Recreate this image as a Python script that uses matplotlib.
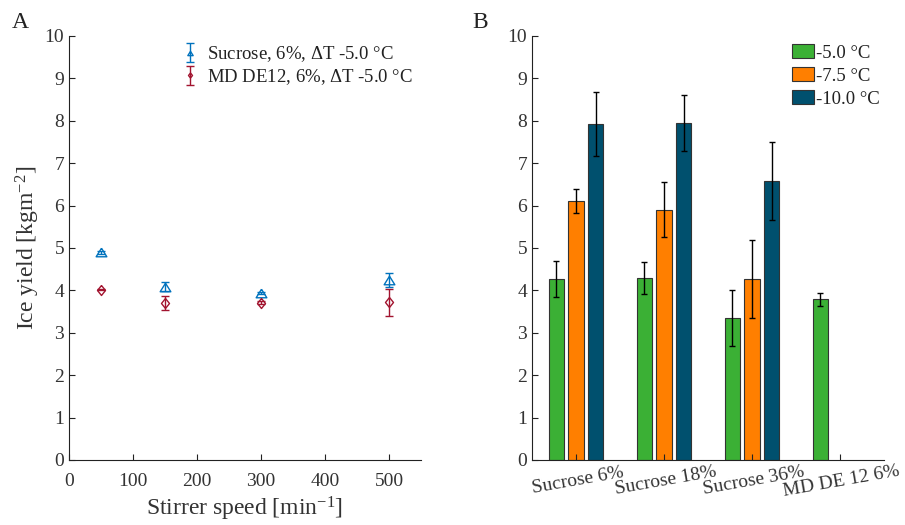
import numpy as np
import matplotlib.pyplot as plt

plt.rcParams['font.family'] = ['Liberation Serif', 'DejaVu Serif']
plt.rcParams['mathtext.fontset'] = 'custom'
plt.rcParams['mathtext.rm'] = 'Liberation Serif'
plt.rcParams['mathtext.it'] = 'Liberation Serif'

# panel A data
speed = [50, 150, 300, 500]
sucrose = [4.90, 4.09, 3.94, 4.25]
sucrose_err = [0.03, 0.10, 0.02, 0.17]
md = [4.02, 3.70, 3.71, 3.72]
md_err = [0.02, 0.16, 0.03, 0.32]

# panel B data
cats = ['Sucrose 6%', 'Sucrose 18%', 'Sucrose 36%', 'MD DE 12 6%']
t5 = [4.27, 4.29, 3.36, 3.79]
t5_err = [0.43, 0.38, 0.66, 0.155]
t75 = [6.10, 5.90, 4.27]
t75_err = [0.28, 0.65, 0.91]
t10 = [7.93, 7.95, 6.57]
t10_err = [0.75, 0.67, 0.92]

tc = '#333333'
tri = [(0, 0.8), (-1, -0.8), (1, -0.8), (0, 0.8)]
dia = [(0, 1), (0.8, 0), (0, -1), (-0.8, 0), (0, 1)]

fig = plt.figure(figsize=(9.05, 5.25), dpi=100)

axA = fig.add_axes([69/905, 65/525, 352/905, 424/525])
axA.errorbar(speed, sucrose, yerr=sucrose_err, ls='none', marker=tri, color='#0072BD',
             mfc='none', ms=7.7, mew=1, capsize=3, elinewidth=1,
             label='Sucrose, 6%, $\\Delta$T -5.0 °C')
axA.errorbar(speed, md, yerr=md_err, ls='none', marker=dia, color='#A2142F',
             mfc='none', ms=7.2, mew=1, capsize=3, elinewidth=1,
             label='MD DE12, 6%, $\\Delta$T -5.0 °C')
axA.set_xlim(0, 550)
axA.set_ylim(0, 10)
axA.set_xticks(np.arange(0, 501, 100))
axA.set_yticks(np.arange(0, 11, 1))
axA.set_xlabel('Stirrer speed [min$^{\\mathrm{-1}}$]', fontsize=17, color=tc, labelpad=4)
axA.set_ylabel('Ice yield [kgm$^{\\mathrm{-2}}$]', fontsize=17, color=tc, labelpad=2)
leg = axA.legend(loc='upper left', bbox_to_anchor=(0.275, 1.02), frameon=False, fontsize=13.5,
                 handlelength=0.8, handletextpad=0.5, labelspacing=0.15, markerscale=0.5)
for t in leg.get_texts():
    t.set_color('#222222')
fig.text(12/905, 1 - 28/525, 'A', fontsize=17, color='#222222')

axB = fig.add_axes([532/905, 65/525, 352/905, 424/525])
x = np.arange(1, len(cats) + 1)
w = 0.18
off = 0.222
ekw = dict(elinewidth=1, capsize=2.5, capthick=1, ecolor='black')
axB.bar(x - off, t5, w, yerr=t5_err, color='#3BB035', edgecolor='#333333', lw=0.8,
        error_kw=ekw, label='-5.0 °C')
axB.bar(x[:3], t75, w, yerr=t75_err, color='#FF7F00', edgecolor='#333333', lw=0.8,
        error_kw=ekw, label='-7.5 °C')
axB.bar(x[:3] + off, t10, w, yerr=t10_err, color='#00506E', edgecolor='#333333', lw=0.8,
        error_kw=ekw, label='-10.0 °C')
axB.set_xlim(0.5, 4.5)
axB.set_ylim(0, 10)
axB.set_yticks(np.arange(0, 11, 1))
axB.set_xticks(x)
axB.set_xticklabels(cats, rotation=10, ha='center', rotation_mode='anchor', fontsize=14.5)
legB = axB.legend(loc='upper left', bbox_to_anchor=(0.69, 1.02), frameon=False, fontsize=13.5,
                  handlelength=1.2, handleheight=0.75, handletextpad=0.1, labelspacing=0.3)
for t in legB.get_texts():
    t.set_color('#222222')
fig.text(472/905, 1 - 28/525, 'B', fontsize=17, color='#222222')

for ax in (axA, axB):
    for s in ('top', 'right'):
        ax.spines[s].set_visible(False)
    for s in ('left', 'bottom'):
        ax.spines[s].set_color('#222222')
    ax.tick_params(direction='in', labelsize=14, colors='#222222', labelcolor=tc, length=4)
    ax.tick_params(axis='x', pad=9)

fig.savefig('out.png', dpi=100)
